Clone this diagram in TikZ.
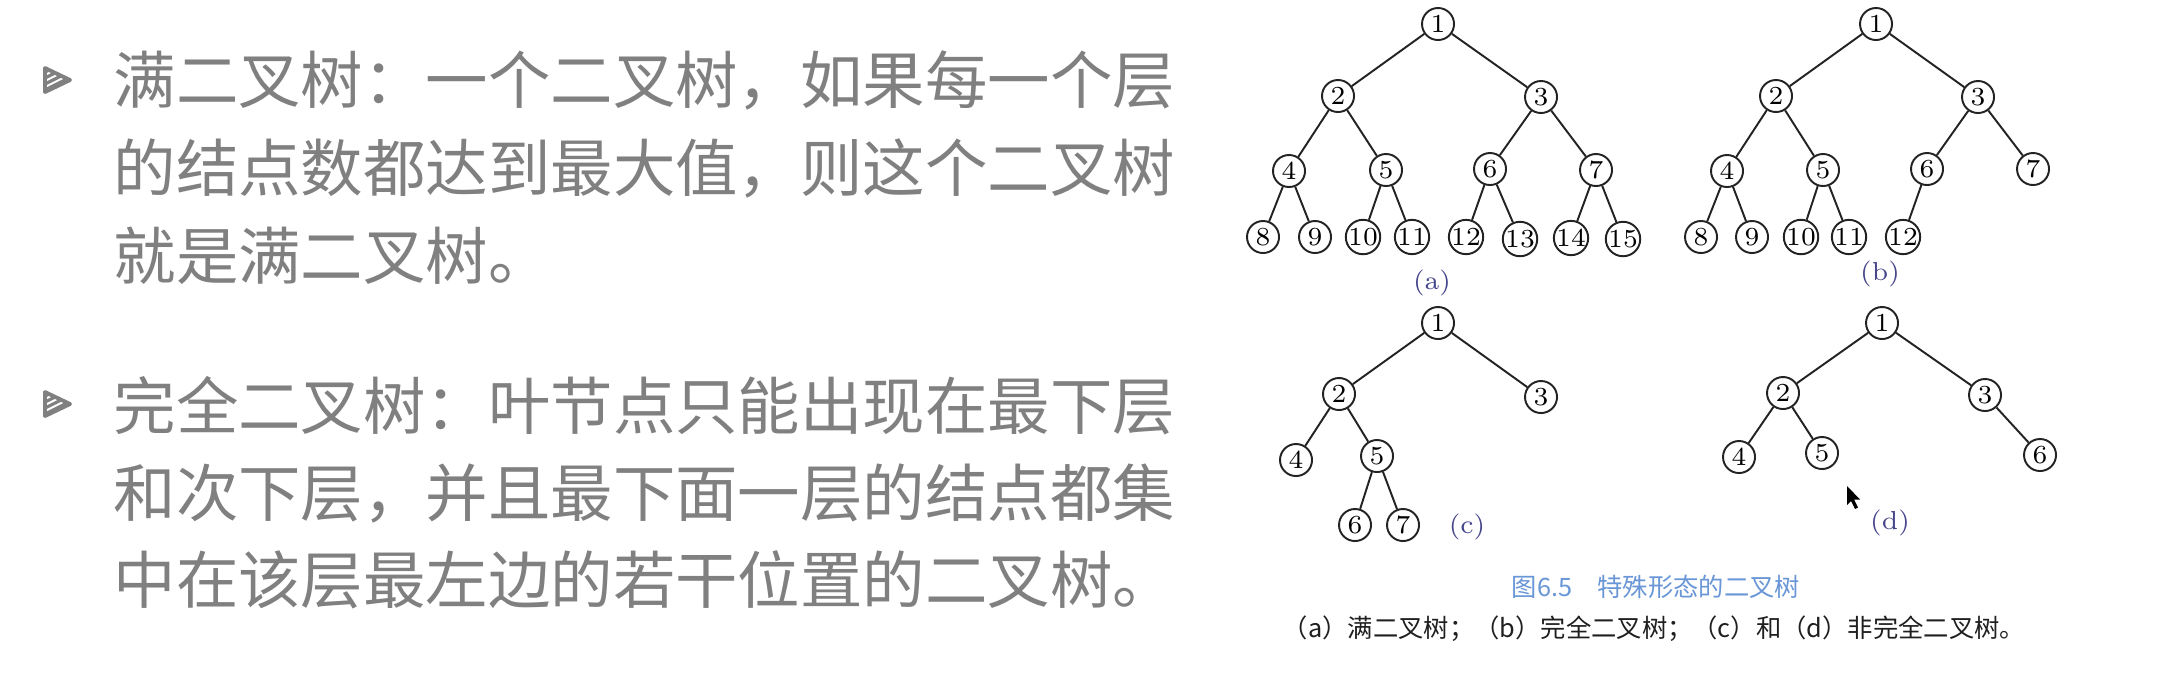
\documentclass[tikz,border=0pt]{standalone}
\usepackage{fontspec}
\usepackage{xcolor}
\usepackage{tikz}
\newfontfamily\cjk{Noto Sans CJK SC}
\definecolor{slidegray}{RGB}{128,128,128}
\definecolor{treeink}{RGB}{35,35,35}
\definecolor{sublabelblue}{RGB}{70,70,140}
\definecolor{figblue}{RGB}{105,150,215}

\tikzset{
  tnode/.style={circle,draw=treeink,line width=0.55pt,minimum size=0.32cm,inner sep=0pt,
    font=\fontsize{7.4pt}{8pt}\selectfont},
  tedge/.style={treeink,line width=0.55pt},
  sublabel/.style={text=sublabelblue,inner sep=0pt,font=\fontsize{7.4pt}{8pt}\selectfont},
  slideline/.style={anchor=base west,inner sep=0pt,text=slidegray,
    font=\cjk\fontsize{17.75pt}{25pt}\selectfont},
}

\begin{document}
\begin{tikzpicture}[x=0.01cm,y=-0.01cm]
  \fill[white] (0,0) rectangle (2180,684);
  \useasboundingbox (0,0) rectangle (2180,684);

  % bullets
  \foreach \by in {80,404} {
    \begin{scope}[shift={(57,\by)}]
      \begin{scope}
        \clip (-12,-12) -- (13,0) -- (-12,12) -- cycle;
        \foreach \k in {0,...,5}
          \draw[slidegray,line width=0.9pt] (-16,-6+6*\k) -- (16,-22+6*\k);
      \end{scope}
      \draw[slidegray,line width=1.1pt,line join=round] (-12,-12) -- (13,0) -- (-12,12) -- cycle;
    \end{scope}
  }

  % slide text
  \node[slideline] (full1) at (113,103) {满二叉树：一个二叉树，如果每一个层};
  \node[slideline] (full2) at (113,191) {的结点数都达到最大值，则这个二叉树};
  \node[slideline] (full3) at (113,279) {就是满二叉树。};
  \node[slideline] (comp1) at (113,429) {完全二叉树：叶节点只能出现在最下层};
  \node[slideline] (comp2) at (113,516) {和次下层，并且最下面一层的结点都集};
  \node[slideline] (comp3) at (113,603) {中在该层最左边的若干位置的二叉树。};

  % tree (a)
  \foreach \n/\x/\y in {1/1438/24, 2/1338/96, 3/1541/97, 4/1289/171, 5/1386/170,
      6/1490/169, 7/1596/170, 8/1263/237, 9/1315/237, 10/1363/237, 11/1412/237,
      12/1466/237, 13/1520/239, 14/1571/238, 15/1623/239}
    \node[tnode] (a\n) at (\x,\y) {\n};
  \foreach \p/\c in {1/2,1/3,2/4,2/5,3/6,3/7,4/8,4/9,5/10,5/11,6/12,6/13,7/14,7/15}
    \draw[tedge] (a\p) -- (a\c);
  \node[sublabel] (laba) at (1432,283) {(a)};

  % tree (b)
  \foreach \n/\x/\y in {1/1876/24, 2/1776/96, 3/1978/97, 4/1727/171, 5/1823/170,
      6/1927/169, 7/2033/169, 8/1701/237, 9/1752/237, 10/1801/237, 11/1849/237,
      12/1903/237}
    \node[tnode] (b\n) at (\x,\y) {\n};
  \foreach \p/\c in {1/2,1/3,2/4,2/5,3/6,3/7,4/8,4/9,5/10,5/11,6/12}
    \draw[tedge] (b\p) -- (b\c);
  \node[sublabel] (labb) at (1880,274) {(b)};

  % tree (c)
  \foreach \n/\x/\y in {1/1438/323, 2/1339/394, 3/1541/397, 4/1296/460, 5/1377/456,
      6/1355/525, 7/1403/525}
    \node[tnode] (c\n) at (\x,\y) {\n};
  \foreach \p/\c in {1/2,1/3,2/4,2/5,5/6,5/7}
    \draw[tedge] (c\p) -- (c\c);
  \node[sublabel] (labc) at (1467,527) {(c)};

  % tree (d)
  \foreach \n/\x/\y in {1/1882/323, 2/1783/393, 3/1985/395, 4/1739/457, 5/1822/453,
      6/2040/455}
    \node[tnode] (d\n) at (\x,\y) {\n};
  \foreach \p/\c in {1/2,1/3,2/4,2/5,3/6}
    \draw[tedge] (d\p) -- (d\c);
  \node[sublabel] (labd) at (1890,523) {(d)};

  % mouse pointer
  \fill[black] (1847,486) -- ++(0,19) -- ++(4,-4) -- ++(4,8) -- ++(3,-1.5)
    -- ++(-4,-8) -- ++(6,0) -- cycle;

  % figure caption
  \node[text=figblue,font=\cjk\fontsize{7.2pt}{8pt}\selectfont] (figcap) at (1656,587)
    {图6.5　特殊形态的二叉树};
  \node[text=black!88,font=\cjk\fontsize{7.2pt}{8pt}\selectfont] (figsub) at (1654,629)
    {（a）满二叉树；（b）完全二叉树；（c）和（d）非完全二叉树。};
\end{tikzpicture}
\end{document}
